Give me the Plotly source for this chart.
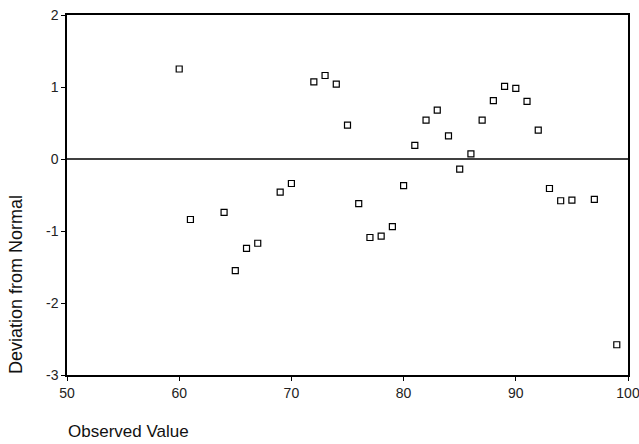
import plotly.graph_objects as go

# Detrended normal Q-Q plot data
observed_value = [60, 61, 64, 65, 66, 67, 69, 70, 72, 73, 74, 75, 76, 77, 78, 79,
                  80, 81, 82, 83, 84, 85, 86, 87, 88, 89, 90, 91, 92, 93, 94, 95, 97, 99]
deviation = [1.25, -0.84, -0.74, -1.55, -1.24, -1.17, -0.46, -0.34, 1.07, 1.16, 1.04, 0.47,
             -0.62, -1.09, -1.07, -0.94, -0.37, 0.19, 0.54, 0.68, 0.32, -0.14, 0.07, 0.54,
             0.81, 1.01, 0.98, 0.80, 0.40, -0.41, -0.58, -0.57, -0.56, -2.58]

x_ticks = [50, 60, 70, 80, 90, 100]
y_ticks = [-3, -2, -1, 0, 1, 2]

FONT = "Liberation Sans, Arial, sans-serif"

fig = go.Figure()
fig.add_trace(go.Scatter(
    x=observed_value, y=deviation, mode="markers",
    marker=dict(symbol="square-open", size=6, color="black", line=dict(width=1.2, color="black")),
    showlegend=False, hoverinfo="x+y",
))

fig.add_hline(y=0, line=dict(color="black", width=1.5))

fig.update_xaxes(
    range=[50, 100], tickvals=x_ticks, ticktext=[str(v) for v in x_ticks],
    showgrid=False, zeroline=False, showline=True, linecolor="black", linewidth=1.5,
    mirror=True, ticks="outside", ticklen=4, tickcolor="black", tickwidth=1,
    tickfont=dict(family=FONT, size=14, color="#222222"), automargin=False,
    ticklabeloverflow="allow",
)
fig.update_yaxes(
    range=[-3, 2], tickvals=y_ticks, ticktext=[str(v) for v in y_ticks],
    showgrid=False, zeroline=False, showline=True, linecolor="black", linewidth=1.5,
    mirror=True, ticks="outside", ticklen=4, tickcolor="black", tickwidth=1,
    tickfont=dict(family=FONT, size=14, color="#222222"), automargin=False,
    ticklabeloverflow="allow",
)

fig.add_annotation(
    text="Observed Value", xref="paper", yref="paper", x=0.0, y=-0.158,
    xanchor="left", yanchor="middle", showarrow=False,
    font=dict(family=FONT, size=17, color="#111111"), xshift=-1,
)
fig.add_annotation(
    text="Deviation from Normal", xref="paper", yref="paper", x=0, y=0.25,
    xanchor="center", yanchor="middle", showarrow=False, textangle=-90, xshift=-51,
    font=dict(family=FONT, size=18, color="#111111"),
)

fig.update_layout(
    width=639, height=444,
    margin=dict(l=67, r=11, t=15, b=69, autoexpand=False),
    paper_bgcolor="white", plot_bgcolor="white",
    font=dict(family=FONT),
)

fig.write_html(
    "out.html",
    config={"displayModeBar": False},
    post_script="document.body.style.margin='0px';document.body.style.overflow='hidden';",
)
